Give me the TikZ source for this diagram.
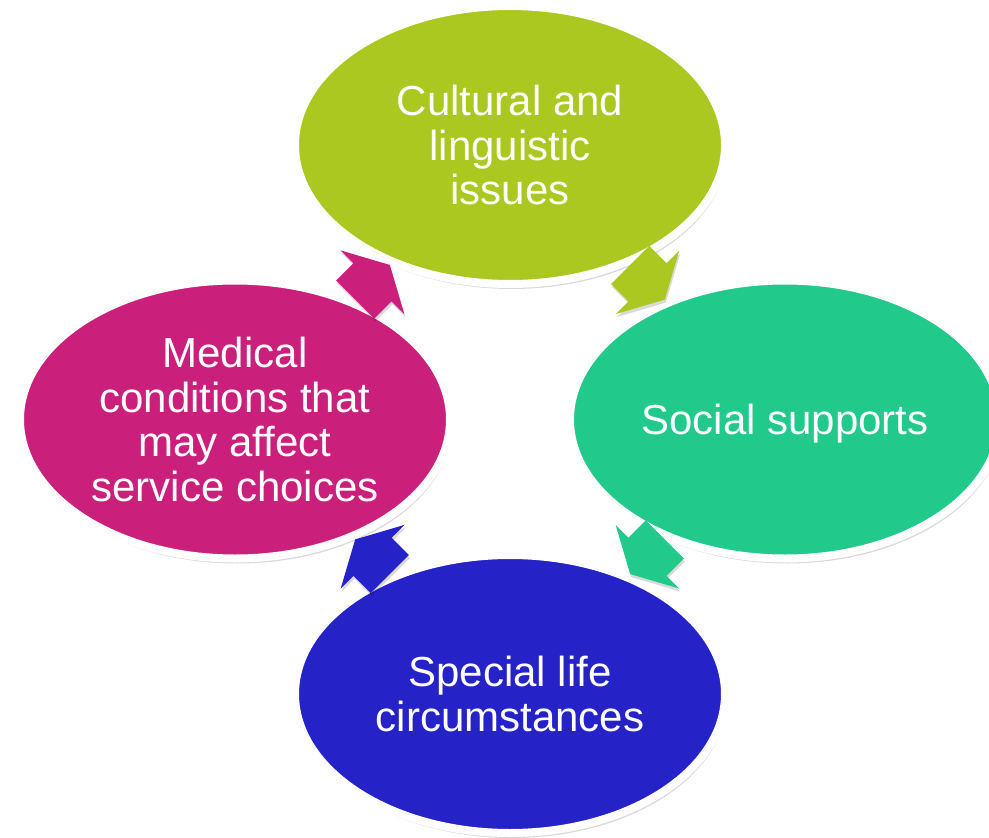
\documentclass[tikz,border=0pt]{standalone}
\usepackage{fontspec}
\setmainfont{Liberation Sans}
\usetikzlibrary{shapes.geometric,calc,shadows}
\definecolor{cLime}{RGB}{171,200,32}
\definecolor{cTeal}{RGB}{33,201,138}
\definecolor{cBlue}{RGB}{37,34,200}
\definecolor{cMag}{RGB}{202,32,123}
\begin{document}
\begin{tikzpicture}[x=1pt,y=-1pt,
  bubble/.style={ellipse, draw=white, line width=8pt, minimum width=430pt,
    minimum height=278pt, inner sep=0pt, text=white, align=center, text depth=0pt,
    font=\fontsize{42}{44.5}\selectfont,
    drop shadow={shadow xshift=2pt, shadow yshift=-5pt, opacity=0.15, fill=black}},
  blockarrow/.style={drop shadow={shadow xshift=1pt, shadow yshift=-3pt, opacity=0.15, fill=black}}]
\useasboundingbox (0,0) rectangle (989,838);
\fill[white] (0,0) rectangle (989,838);

\node[bubble, fill=cLime] (top) at (510,145) {Cultural and\\linguistic\\issues};
\node[bubble, fill=cTeal] (right) at (785,419.5) {Social supports};
\node[bubble, fill=cBlue] (bottom) at (510,694) {Special life\\circumstances};
\node[bubble, fill=cMag] (left) at (235,419.5) {Medical\\conditions that\\may affect\\service choices};

\coordinate (m1) at ($(top.center)!0.5!(right.center)$);
\coordinate (m2) at ($(right.center)!0.5!(bottom.center)$);
\coordinate (m3) at ($(bottom.center)!0.5!(left.center)$);
\coordinate (m4) at ($(left.center)!0.5!(top.center)$);

\fill[blockarrow, cLime, shift={(m1)}, rotate=-45]
  (-24.5,-27) -- (0,-27) -- (0,-45) -- (24.5,0) -- (0,45) -- (0,27) -- (-24.5,27) -- cycle;
\fill[blockarrow, cTeal, shift={(m2)}, rotate=-135]
  (-24.5,-27) -- (0,-27) -- (0,-45) -- (24.5,0) -- (0,45) -- (0,27) -- (-24.5,27) -- cycle;
\fill[blockarrow, cBlue, shift={(m3)}, rotate=135]
  (-24.5,-27) -- (0,-27) -- (0,-45) -- (24.5,0) -- (0,45) -- (0,27) -- (-24.5,27) -- cycle;
\fill[blockarrow, cMag, shift={(m4)}, rotate=45]
  (-24.5,-27) -- (0,-27) -- (0,-45) -- (24.5,0) -- (0,45) -- (0,27) -- (-24.5,27) -- cycle;
\end{tikzpicture}
\end{document}
